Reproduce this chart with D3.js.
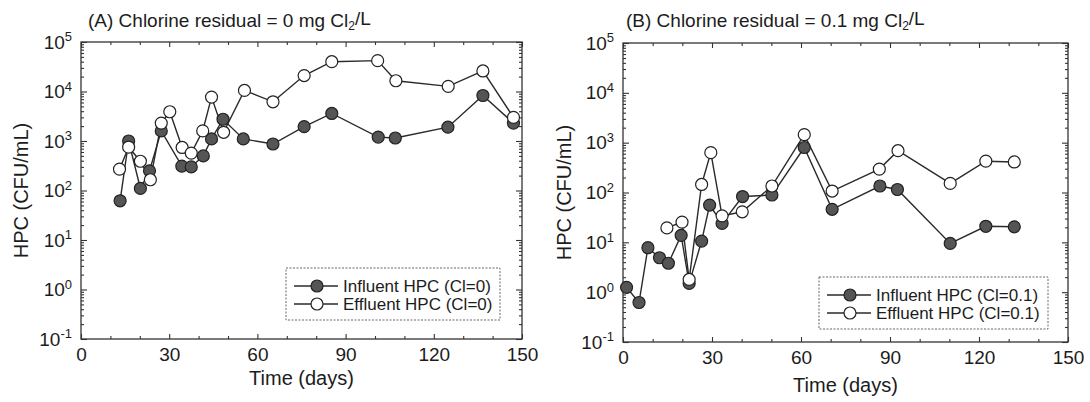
<!DOCTYPE html>
<html>
<head>
<meta charset="utf-8">
<script src="https://cdn.jsdelivr.net/npm/d3@7"></script>
<style>
  body { margin: 0; background: #fff; }
  svg text { font-family: "Liberation Sans", Arial, sans-serif; fill: #1c1c1c; }
</style>
</head>
<body>
<div id="chart"></div>
<script>
// --- data (days, CFU/mL) ---
const dayTicks = [0, 30, 60, 90, 120, 150];
const decades = [-1, 0, 1, 2, 3, 4, 5];

// panel A: chlorine residual = 0
const daysInfA = [13.3, 16.2, 20.2, 23.3, 27.3, 34.3, 37.5, 41.6, 44.4, 48.3, 55.2, 65.3, 75.9, 85.3, 101.1, 106.9, 124.8, 136.7, 147.1];
const infA     = [62, 1000, 110, 250, 1600, 310, 300, 500, 1100, 2750, 1100, 870, 1950, 3600, 1200, 1150, 1900, 8300, 2300];
const daysEffA = [13.1, 16.2, 20.2, 23.6, 27.3, 30.2, 34.4, 37.5, 41.4, 44.4, 48.5, 55.6, 65.3, 75.9, 85.3, 100.9, 107.1, 124.9, 136.7, 147.1];
const effA     = [270, 750, 390, 165, 2300, 3900, 740, 570, 1600, 7700, 1500, 10500, 6200, 21000, 40000, 42000, 16500, 12700, 26000, 3000];

// panel B: chlorine residual = 0.1
const daysInfB = [1.2, 5.4, 8.4, 12.3, 15.3, 19.6, 22.3, 26.5, 29.2, 33.4, 40.3, 50.2, 61.1, 70.5, 86.6, 92.5, 110.3, 122.3, 131.9];
const infB     = [1.25, 0.62, 7.8, 4.9, 3.8, 13.8, 1.5, 10.6, 56, 24, 83, 89, 800, 46, 135, 115, 9.5, 21, 20.5];
const daysEffB = [14.8, 19.9, 22.3, 26.5, 29.6, 33.4, 40.2, 50.2, 61.1, 70.5, 86.4, 92.7, 110.3, 122.3, 131.9];
const effB     = [19.5, 25.5, 1.8, 145, 630, 34, 41, 135, 1450, 107, 295, 690, 152, 425, 410];

const svg = d3.select("#chart").append("svg")
    .attr("width", 1090)
    .attr("height", 402);

function drawPanel(p) {
  const x = d3.scaleLinear().domain([0, 150]).range([p.left, p.right]);
  const y = d3.scaleLog().domain([0.1, 1e5]).range([p.bottom, p.top]);
  const g = svg.append("g");

  const minorY = [];
  decades.forEach(e => { if (e < 5) for (let k = 2; k < 10; k++) minorY.push(k * Math.pow(10, e)); });
  const minorX = d3.range(0, 151, 10).filter(d => d % 30 !== 0);

  // ticks, all pointing inwards
  function axisStyle(a) {
    a.select(".domain").remove();
    a.selectAll("line").attr("stroke", "#333").attr("stroke-width", 1.1);
    a.attr("font-family", null).attr("font-size", 19);
  }
  g.append("g").attr("transform", `translate(0,${p.bottom})`)
    .call(d3.axisBottom(x).tickValues(dayTicks).tickSize(-5).tickPadding(9).tickFormat(d3.format("d")))
    .call(axisStyle);
  g.append("g").attr("transform", `translate(0,${p.bottom})`)
    .call(d3.axisBottom(x).tickValues(minorX).tickSize(-3).tickFormat(""))
    .call(axisStyle);
  g.append("g").attr("transform", `translate(0,${p.top})`)
    .call(d3.axisTop(x).tickValues(dayTicks).tickSize(-5).tickFormat(""))
    .call(axisStyle);
  g.append("g").attr("transform", `translate(0,${p.top})`)
    .call(d3.axisTop(x).tickValues(minorX).tickSize(-3).tickFormat(""))
    .call(axisStyle);

  const yl = g.append("g").attr("transform", `translate(${p.left},0)`)
    .call(d3.axisLeft(y).tickValues(decades.map(e => Math.pow(10, e))).tickSize(-6).tickPadding(9).tickFormat(""))
    .call(axisStyle);
  yl.selectAll(".tick text").each(function(d) {
    const t = d3.select(this);
    t.append("tspan").text("10");
    t.append("tspan").attr("dy", "-0.55em").attr("font-size", 13).text(Math.round(Math.log10(d)));
  });
  g.append("g").attr("transform", `translate(${p.left},0)`)
    .call(d3.axisLeft(y).tickValues(minorY).tickSize(-3).tickFormat(""))
    .call(axisStyle);
  g.append("g").attr("transform", `translate(${p.right},0)`)
    .call(d3.axisRight(y).tickValues(decades.map(e => Math.pow(10, e))).tickSize(-6).tickFormat(""))
    .call(axisStyle);
  g.append("g").attr("transform", `translate(${p.right},0)`)
    .call(d3.axisRight(y).tickValues(minorY).tickSize(-3).tickFormat(""))
    .call(axisStyle);

  // frame
  g.append("rect")
    .attr("x", p.left).attr("y", p.top)
    .attr("width", p.right - p.left).attr("height", p.bottom - p.top)
    .attr("fill", "none").attr("stroke", "#333").attr("stroke-width", 1.3);

  // titles
  const title = g.append("text").attr("x", p.titleX).attr("y", 27).attr("font-size", 19);
  title.append("tspan").text(p.title);
  title.append("tspan").attr("font-size", 12).attr("dy", "0.25em").text("2");
  title.append("tspan").attr("dy", "-0.25em").text("/L");

  g.append("text")
    .attr("transform", `translate(${p.ylabX},${(p.top + p.bottom) / 2}) rotate(-90)`)
    .attr("text-anchor", "middle").attr("dy", "0.35em").attr("font-size", 20)
    .text("HPC (CFU/mL)");
  g.append("text")
    .attr("x", (p.left + p.right) / 2).attr("y", p.xlabY)
    .attr("text-anchor", "middle").attr("dy", "0.35em").attr("font-size", 20)
    .text("Time (days)");

  // series
  const line = d3.line().x(d => x(d[0])).y(d => y(d[1]));
  const series = [
    { pts: d3.zip(p.daysInf, p.inf), fill: "#555" },
    { pts: d3.zip(p.daysEff, p.eff), fill: "#fff" }
  ];
  series.forEach(s => {
    g.append("path").datum(s.pts)
      .attr("fill", "none").attr("stroke", "#2a2a2a").attr("stroke-width", 1.4)
      .attr("d", line);
  });
  series.forEach(s => {
    g.selectAll(null).data(s.pts).enter().append("circle")
      .attr("cx", d => x(d[0])).attr("cy", d => y(d[1])).attr("r", 6)
      .attr("fill", s.fill).attr("stroke", "#222").attr("stroke-width", 1.2);
  });

  // legend
  const L = p.legend;
  g.append("rect").attr("x", L.x).attr("y", L.y).attr("width", L.w).attr("height", L.h)
    .attr("fill", "#fff").attr("stroke", "#666").attr("stroke-width", 1).attr("stroke-dasharray", "2,1.5");
  p.labels.forEach((lab, i) => {
    const yy = L.y + 18 + i * 18;
    g.append("line").attr("x1", L.x + 8).attr("x2", L.x + 52).attr("y1", yy).attr("y2", yy)
      .attr("stroke", "#2a2a2a").attr("stroke-width", 1.4);
    g.append("circle").attr("cx", L.x + 31).attr("cy", yy).attr("r", 6)
      .attr("fill", series[i].fill).attr("stroke", "#222").attr("stroke-width", 1.2);
    g.append("text").attr("x", L.x + 57).attr("y", yy).attr("dy", "0.35em").attr("font-size", 17).text(lab);
  });
}

drawPanel({
  left: 81, right: 522, top: 42, bottom: 339,
  title: "(A) Chlorine residual = 0 mg Cl", titleX: 88,
  ylabX: 21, xlabY: 378,
  daysInf: daysInfA, inf: infA, daysEff: daysEffA, eff: effA,
  legend: { x: 286, y: 268, w: 214, h: 52 },
  labels: ["Influent HPC (Cl=0)", "Effluent HPC (Cl=0)"]
});
drawPanel({
  left: 623, right: 1068, top: 43, bottom: 342,
  title: "(B) Chlorine residual = 0.1 mg Cl", titleX: 626,
  ylabX: 564, xlabY: 385,
  daysInf: daysInfB, inf: infB, daysEff: daysEffB, eff: effB,
  legend: { x: 819, y: 277, w: 229, h: 52 },
  labels: ["Influent HPC (Cl=0.1)", "Effluent HPC (Cl=0.1)"]
});
</script>
</body>
</html>
